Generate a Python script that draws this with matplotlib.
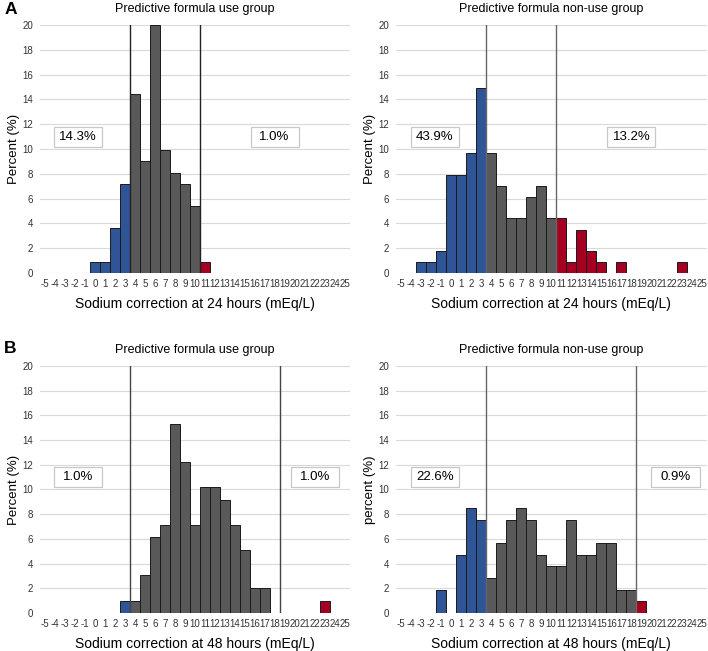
import numpy as np
import matplotlib.pyplot as plt
from matplotlib.patches import Rectangle

plt.rcParams['font.family'] = ['Liberation Sans', 'DejaVu Sans']

# categories on the x axis (mEq/L)
cats = list(range(-5, 26))

# A: 24 hours, use group
a_use_x = [0, 1, 2, 3, 4, 5, 6, 7, 8, 9, 10, 11]
a_use_y = [0.9, 0.9, 3.6, 7.2, 14.4, 9.0, 20.0, 9.9, 8.1, 7.2, 5.4, 0.9]
# A: 24 hours, non-use group
a_non_x = [-3, -2, -1, 0, 1, 2, 3, 4, 5, 6, 7, 8, 9, 10, 11, 12, 13, 14, 15, 17, 23]
a_non_y = [0.9, 0.9, 1.75, 7.9, 7.9, 9.65, 14.9, 9.65, 7.0, 4.4, 4.4, 6.15, 7.0, 4.4,
           4.4, 0.9, 3.5, 1.75, 0.9, 0.9, 0.9]
# B: 48 hours, use group
b_use_x = [3, 4, 5, 6, 7, 8, 9, 10, 11, 12, 13, 14, 15, 16, 17, 23]
b_use_y = [1.0, 1.0, 3.06, 6.12, 7.14, 15.3, 12.24, 7.14, 10.2, 10.2, 9.18, 7.14, 5.1,
           2.04, 2.04, 1.0]
# B: 48 hours, non-use group
b_non_x = [-1, 1, 2, 3, 4, 5, 6, 7, 8, 9, 10, 11, 12, 13, 14, 15, 16, 17, 18, 19]
b_non_y = [1.89, 4.72, 8.49, 7.55, 2.83, 5.66, 7.55, 8.49, 7.55, 4.72, 3.77, 3.77, 7.55,
           4.72, 4.72, 5.66, 5.66, 1.89, 1.89, 0.94]

# thresholds (lower, upper) and the percentages outside them
a_limits = (3.5, 10.5)
b_limits = (3.5, 18.5)
a_use_pct = ['14.3%', '1.0%']
a_non_pct = ['43.9%', '13.2%']
b_use_pct = ['1.0%', '1.0%']
b_non_pct = ['22.6%', '0.9%']

blue = '#2F5597'
grey = '#595959'
red = '#A50021'

fig = plt.figure(figsize=(7.08, 6.51), dpi=100)


def panel(rect, x, y, limits, pct, pct_x, title, xlabel, ylabel, line_col):
    ax = fig.add_axes(rect)
    cols = [blue if v < limits[0] else (red if v > limits[1] else grey) for v in x]
    ax.bar(x, y, width=1.0, color=cols, edgecolor='#1a1a1a', linewidth=0.7, zorder=3)
    for lim in limits:
        ax.axvline(lim, color=line_col, linewidth=1.0, zorder=4)
    ax.set_xlim(-5.5, 25.5)
    ax.set_ylim(0, 20)
    ax.set_xticks(cats)
    ax.set_xticklabels([str(c) for c in cats], fontsize=7, color='#333333')
    ax.set_yticks(np.arange(0, 21, 2))
    ax.tick_params(axis='y', labelsize=7, labelcolor='#333333', length=0, pad=5)
    ax.tick_params(axis='x', length=0, pad=4)
    ax.grid(axis='y', color='#d9d9d9', linewidth=0.8, zorder=0)
    for s in ax.spines.values():
        s.set_visible(False)
    ax.set_title(title, fontsize=9, pad=9)
    ax.set_xlabel(xlabel, fontsize=10, labelpad=6)
    ax.set_ylabel(ylabel, fontsize=9.5, labelpad=1.5)
    # fixed-size label boxes
    for txt, px in zip(pct, pct_x):
        ax.add_patch(Rectangle((px - 2.4, 10.2), 4.8, 1.6, facecolor='white',
                               edgecolor='#c8c8c8', linewidth=0.9, zorder=5))
        ax.text(px, 11, txt, ha='center', va='center', fontsize=9.5, zorder=6)
    return ax


panel([0.0565, 0.5806, 0.438, 0.381], a_use_x, a_use_y, a_limits, a_use_pct, (-1.7, 17.95),
      'Predictive formula use group', 'Sodium correction at 24 hours (mEq/L)', 'Percent (%)', '#222222')
panel([0.559, 0.5806, 0.439, 0.381], a_non_x, a_non_y, a_limits, a_non_pct, (-1.6, 18.0),
      'Predictive formula non-use group', 'Sodium correction at 24 hours (mEq/L)', 'Percent (%)', '#666666')
panel([0.0565, 0.0584, 0.438, 0.3794], b_use_x, b_use_y, b_limits, b_use_pct, (-1.7, 22.0),
      'Predictive formula use group', 'Sodium correction at 48 hours (mEq/L)', 'Percent (%)', '#444444')
panel([0.559, 0.0584, 0.439, 0.3794], b_non_x, b_non_y, b_limits, b_non_pct, (-1.6, 22.4),
      'Predictive formula non-use group', 'Sodium correction at 48 hours (mEq/L)', 'percent (%)', '#666666')

fig.text(0.006, 0.986, 'A', fontsize=12.5, fontweight='bold', va='center')
fig.text(0.006, 0.465, 'B', fontsize=12.5, fontweight='bold', va='center')

fig.savefig('out.png', dpi=100)
